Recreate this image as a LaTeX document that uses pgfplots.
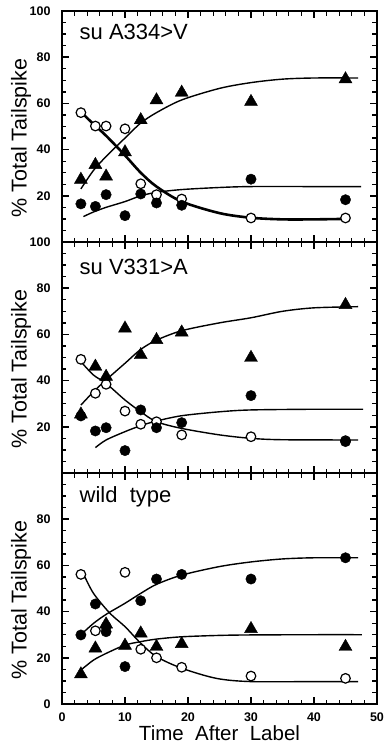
\documentclass[border=0pt]{standalone}
\usepackage{fontspec}
\setmainfont{Liberation Sans}
\usepackage{pgfplots}
\pgfplotsset{compat=1.18}
\usepgfplotslibrary{groupplots}
\begin{document}
\begin{tikzpicture}
\pgfplotsset{
  mycurve/.style={black, line width=1.4pt, smooth, no marks},
  myopn/.style={only marks, mark=*, mark size=4.8pt, mark options={fill=white, draw=black, line width=1.2pt}},
  myfil/.style={only marks, mark=*, mark size=5.2pt, mark options={fill=black, draw=black}},
  mytri/.style={only marks, mark=triangle*, mark size=7.5pt, mark options={fill=black, draw=black}},
}
\begin{groupplot}[group style={group size=1 by 3, vertical sep=0pt},
    width=315pt, height=231pt, scale only axis,
    xmin=0, xmax=50, ymin=0, ymax=100,
    xtick={0,10,...,50}, ytick={0,20,...,100},
    minor x tick num=4, minor y tick num=3,
    yticklabel style={xshift=-8pt, font=\fontsize{12.5}{12.5}\selectfont\bfseries},
    xticklabel style={yshift=-5pt, font=\fontsize{12.5}{12.5}\selectfont\bfseries},
    ylabel={\% Total Tailspike},
    ylabel style={at={(axis description cs:-0.13,0.45)}, anchor=center, font=\fontsize{21.5}{21.5}\selectfont},
    tick align=inside,
    major tick length=7pt, minor tick length=4.5pt,
    major tick style={black, line width=1.5pt},
    minor tick style={black, line width=1.3pt},
    axis line style={black, line width=1.9pt}]
% ---------------- panel 1 ----------------
\nextgroupplot[xticklabels={}, yticklabels={,20,40,60,80,100}]
\addplot[mycurve] coordinates {(3,23) (5,31) (7,37) (10,45) (12.5,51.5) (15,56) (19,61.5) (25,66.5) (30,69) (35,70.5) (40,71) (47,71)};
\addplot[mycurve, line width=2.6pt] coordinates {(3.5,55) (5,51) (7,46) (10,37.5) (12.5,30) (15,24) (19,17.5) (25,12.5) (30,10.5) (35,9.8) (40,9.8) (45,10)};
\addplot[mycurve] coordinates {(3.4,11) (5,13) (7,15) (10,17.5) (12.5,20) (15,21.5) (19,22.7) (25,23.6) (30,24) (40,24) (47.5,24)};
\addplot[myopn] coordinates {(3,56) (5.3,50.2) (7,50.2) (10,49) (12.5,25.2) (15,20.5) (19,18.6) (30,10.4) (45,10.4)};
\addplot[myfil] coordinates {(3,16.5) (5.3,15.4) (7,20.5) (10,11.4) (12.5,20.8) (15,16.9) (19,15.9) (30,27.2) (45,18.3)};
\addplot[mytri] coordinates {(3,27) (5.3,33.4) (7,28.4) (10,38.9) (12.5,52.8) (15,61.4) (19,64.7) (30,60.7) (45,70.5)};
\node[anchor=west, font=\fontsize{22}{22}\selectfont] at (axis description cs:0.045,0.91) {su A334>V};
\coordinate (tl) at (rel axis cs:0,1);
% ---------------- panel 2 ----------------
\nextgroupplot[xticklabels={}, yticklabels={,20,40,60,80,100}]
\addplot[mycurve] coordinates {(3,29.4) (5,35.2) (7,40.3) (10,47.5) (12.5,53.5) (15,57.5) (19,61.6) (25,65) (30,67.2) (35,70) (40,71.5) (47,72)};
\addplot[mycurve] coordinates {(3,48.2) (5,42.4) (7,38.8) (10,31.6) (12.5,26.5) (15,22.2) (19,19.3) (25,16.5) (30,15) (35,14.4) (47,14.3)};
\addplot[mycurve] coordinates {(5.3,11) (7,14.3) (10,17.9) (12.5,20.5) (15,22.5) (19,24.8) (25,26.5) (30,27.3) (40,27.6) (47.8,27.6)};
\addplot[myopn] coordinates {(3,49.2) (5.3,34.5) (7,38.4) (10,26.8) (12.5,21.1) (15,22.2) (19,16.5) (30,15.7) (45,14)};
\addplot[myfil] coordinates {(3,24.7) (5.3,18.2) (7,19.6) (10,9.7) (12.5,27.3) (15,19.6) (19,21.8) (30,33.5) (45,13.6)};
\addplot[mytri] coordinates {(3,25.4) (5.3,46.1) (7,41.7) (10,62.6) (12.5,51.1) (15,57.6) (19,60.9) (30,49.9) (45,72.8)};
\node[anchor=west, font=\fontsize{22}{22}\selectfont] at (axis description cs:0.045,0.89) {su V331>A};
% ---------------- panel 3 ----------------
\nextgroupplot[xticklabels={0,10,20,30,40,50}, yticklabels={0,20,40,60,80,}, xlabel={Time\ \ After\ \ Label},
  xlabel style={at={(axis description cs:0.5,-0.156)}, anchor=base, font=\fontsize{20.5}{20.5}\selectfont}]
\addplot[mycurve] coordinates {(3,30) (5,34.9) (7,38.8) (10,43.6) (12.5,47.9) (15,51.8) (19,55.8) (25,59.5) (30,61.5) (35,62.8) (40,63.3) (47,63.3)};
\addplot[mycurve] coordinates {(3,14.7) (5,19) (7,21.9) (10,25.5) (12.5,27) (15,28.1) (19,29.1) (25,29.7) (30,29.9) (40,30) (47.6,30)};
\addplot[mycurve] coordinates {(3.5,55.8) (5,47.9) (7.6,39.3) (10,33.5) (12.5,26.3) (15,20.5) (19,15.5) (24.5,11.1) (30,9.7) (40,9.7) (47,9.7)};
\addplot[myopn] coordinates {(3,56.1) (5.3,31.7) (7,33.5) (10,57) (12.5,23.7) (15,20) (19,15.9) (30,12.1) (45,11.1)};
\addplot[myfil] coordinates {(3,29.9) (5.3,43.3) (7,31.3) (10,16.2) (12.5,44.7) (15,54.1) (19,56.1) (30,54.1) (45,63.3)};
\addplot[mytri] coordinates {(3,12.9) (5.3,24.1) (7,34.5) (10,25.3) (12.5,30.6) (15,24.8) (19,26) (30,32.5) (45,24.8)};
\node[anchor=west, font=\fontsize{22}{22}\selectfont] at (axis description cs:0.045,0.895) {wild\ \ type};
\coordinate (br) at (rel axis cs:1,0);
\end{groupplot}
\path ([xshift=-62pt,yshift=11pt]tl) ([xshift=7pt,yshift=-41pt]br);
\end{tikzpicture}
\end{document}
